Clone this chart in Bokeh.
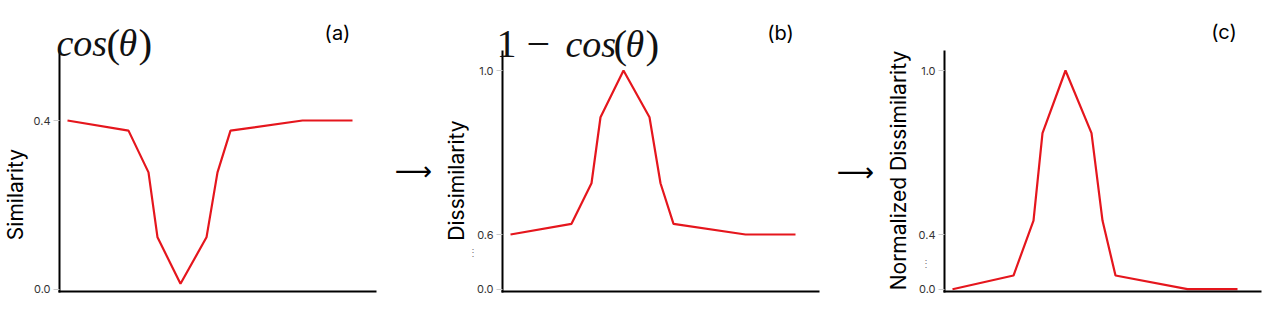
import numpy as np
from bokeh.plotting import figure
from bokeh.layouts import row
from bokeh.models import Range1d, FixedTicker, Label, ColumnDataSource
from bokeh.embed import file_html
from bokeh.resources import INLINE

# ---- data ----
positions = [8, 69, 89, 98, 121, 147, 158, 171, 243, 293]
similarity = [0.40, 0.376, 0.277, 0.123, 0.013, 0.123, 0.277, 0.376, 0.40, 0.40]
dissimilarity = [0.60, 0.626, 0.725, 0.886, 1.0, 0.886, 0.725, 0.626, 0.60, 0.60]
normalized = [0.0, 0.100, 0.451, 0.771, 1.0, 0.771, 0.451, 0.100, 0.0, 0.0]

ticks_a = [0.0, 0.4]
ticks_b = [0.0, 0.6, 1.0]
ticks_c = [0.0, 0.4, 1.0]

RED = "#e5161d"
H = 315
U0 = 288.7          # screen row of the value-0 tick
AX_TOP = 238.7      # top end of the y axis line (screen row 50)
AX_BOT = -2.3       # x axis line (screen row 291)
X_LEN = 317         # length of the x axis


def broken_scale(brk, brk_px, top, top_px):
    """Broken y axis: values below `brk` are compressed."""
    def f(v):
        if v <= brk:
            return v / brk * brk_px
        return brk_px + (v - brk) / (top - brk) * (top_px - brk_px)
    return f


scale_a = broken_scale(0.4, 168.7, 1.0, 168.7 + 0.6 * 421.75)
scale_b = broken_scale(0.6, 54.7, 1.0, 218.7)
scale_c = broken_scale(0.4, 54.7, 1.0, 218.7)


def make_fig(fig_left, fig_right, axis_x, values, scale, ticks):
    width = fig_right - fig_left
    p = figure(width=width, height=H,
               x_range=Range1d(fig_left - axis_x, fig_right - axis_x),
               y_range=Range1d(U0 - H, U0),
               output_backend="svg", toolbar_location=None,
               min_border=0, min_border_left=0, min_border_right=0,
               min_border_top=0, min_border_bottom=0)
    p.title.visible = False
    p.outline_line_color = None
    p.grid.visible = False
    p.background_fill_color = "white"
    p.border_fill_color = "white"

    xa = p.xaxis[0]
    xa.fixed_location = AX_BOT
    xa.bounds = (-1, X_LEN)
    xa.ticker = FixedTicker(ticks=[])
    xa.axis_line_width = 2
    xa.axis_line_color = "black"
    xa.major_tick_line_color = None
    xa.minor_tick_line_color = None
    xa.major_label_text_font_size = "0px"

    ya = p.yaxis[0]
    ya.fixed_location = 0
    ya.bounds = (AX_BOT - 1, AX_TOP)
    tpos = [round(scale(t), 1) for t in ticks]
    ya.ticker = FixedTicker(ticks=tpos)
    ya.major_label_overrides = {tp: f"{t:.1f}" for tp, t in zip(tpos, ticks)}
    ya.axis_line_width = 2
    ya.axis_line_color = "black"
    ya.major_tick_out = 6
    ya.major_tick_in = 0
    ya.major_tick_line_color = "#cccccc"
    ya.minor_tick_line_color = None
    ya.major_label_text_font = "Inter"
    ya.major_label_text_font_size = "11px"
    ya.major_label_text_color = "#333333"
    ya.major_label_standoff = 3

    src = ColumnDataSource(dict(x=positions, y=[scale(v) for v in values]))
    p.line("x", "y", source=src, line_color=RED, line_width=2.2)
    return p


def lab(p, x, y, text, size, font="Inter", style="normal", align="left",
        baseline="middle", angle=0.0, color="black"):
    p.add_layout(Label(x=x, y=y, x_units="data", y_units="data", text=text,
                       text_font=font, text_font_size=size, text_font_style=style,
                       text_align=align, text_baseline=baseline, angle=angle,
                       text_color=color))


def formula(p, y, parts):
    """Math-like title: italic letters, upright digits/operators/parentheses."""
    for text, style, size, x in parts:
        lab(p, x, y, text, size, font="Liberation Serif", style=style,
            baseline="alphabetic", color="#111111")


# panel (a)
pa = make_fig(0, 436, 59, similarity, scale_a, ticks_a)
formula(pa, 246.7, [("cos", "italic", "38px", -3), ("(", "normal", "41px", 47),
                    ("θ", "italic", "38px", 59), (")", "normal", "41px", 79)])
lab(pa, 278, 256.7, "(a)", "20px", align="center")
lab(pa, -44, 94.7, "Similarity", "21px", align="center", angle=np.pi / 2)
lab(pa, 354, 118.7, "⟶", "26px", font="DejaVu Sans", align="center")

# panel (b)
pb = make_fig(436, 880, 502, dissimilarity, scale_b, ticks_b)
formula(pb, 245.7, [("1", "normal", "40px", -6), ("−", "normal", "42px", 24),
                    ("cos", "italic", "38px", 63), ("(", "normal", "41px", 111),
                    ("θ", "italic", "38px", 123), (")", "normal", "41px", 143)])
lab(pb, 278, 256.7, "(b)", "20px", align="center")
lab(pb, -46, 108.7, "Dissimilarity", "21px", align="center", angle=np.pi / 2)
lab(pb, -30, 37.7, "⋮", "10px", align="center", color="#777777")
lab(pb, 353, 117.7, "⟶", "26px", font="DejaVu Sans", align="center")

# panel (c)
pc = make_fig(880, 1275, 944, normalized, scale_c, ticks_c)
lab(pc, 279.5, 257.2, "(c)", "20px", align="center")
lab(pc, -46, 118.7, "Normalized Dissimilarity", "21px", align="center", angle=np.pi / 2)
lab(pc, -19, 26.7, "⋮", "10px", align="center", color="#777777")

layout = row(pa, pb, pc, spacing=0)
open("out.html", "w").write(file_html(layout, INLINE))
